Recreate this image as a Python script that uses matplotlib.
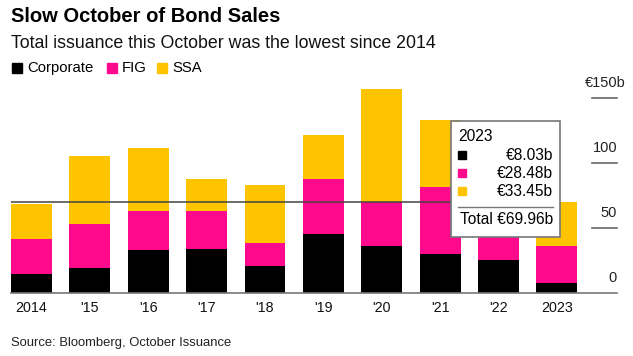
import matplotlib
matplotlib.use("Agg")
import matplotlib.pyplot as plt
from matplotlib.patches import Rectangle

plt.rcParams['font.family'] = ['Liberation Sans', 'DejaVu Sans']

# October issuance, EUR bn
years = ['2014', "'15", "'16", "'17", "'18", "'19", "'20", "'21", "'22", '2023']
corporate = [14.6, 19.5, 33.3, 33.6, 21.0, 45.6, 36.4, 30.3, 25.4, 8.03]
fig_vals = [26.9, 33.6, 30.0, 29.7, 17.7, 42.3, 33.8, 51.5, 30.0, 28.48]
ssa = [27.2, 52.5, 48.2, 24.4, 44.1, 33.9, 86.7, 51.0, 42.0, 33.45]
series_names = ['Corporate', 'FIG', 'SSA']
colors = ['#000000', '#FF0A8C', '#FFC400']
y_ticks = [0, 50, 100, 150]
y_labels = ['0', '50', '100', '\u20ac150b']

W, H = 633, 356
fig = plt.figure(figsize=(W / 100, H / 100), dpi=100)

def fx(px):
    return px / W

def fy(py):
    return 1 - py / H

# axes: x=11..617 px, y baseline at 293 px, 1.3 px per unit
ymax = 160
ax = fig.add_axes([fx(11), fy(293), fx(617 - 11), (ymax * 1.3) / H])
ax.set_xlim(-0.35, 10.03)
ax.set_ylim(0, ymax)
ax.axis('off')

x = list(range(len(years)))
bottom = [0] * len(years)
for vals, c in zip([corporate, fig_vals, ssa], colors):
    ax.bar(x, vals, bottom=bottom, width=0.7, color=c, linewidth=0)
    bottom = [b + v for b, v in zip(bottom, vals)]

# baseline and right-side ticks
ax.plot([-0.35, 10.03], [0, 0], color='#777777', lw=1.2, clip_on=False)
for t, lab in zip(y_ticks, y_labels):
    if t > 0:
        ax.plot([9.60, 10.03], [t, t], color='#666666', lw=1.2, clip_on=False)
    # the currency label hangs a bit past the tick end
    xoff = 6 if lab.endswith('b') else 0
    ax.annotate(lab, xy=(10.03, t), xytext=(xoff, 11), textcoords='offset points',
                ha='right', va='center', fontsize=10.5, color='#222222')

for xi, lab in zip(x, years):
    ax.annotate(lab, xy=(xi, 0), xytext=(0, -10.5), textcoords='offset points',
                ha='center', va='center', fontsize=10.3, color='#111111')

# hover crosshair at 2023 total
total_23 = corporate[-1] + fig_vals[-1] + ssa[-1]
ax.plot([-0.35, 9], [total_23, total_23], color='#444444', lw=1.1)

# title, subtitle, legend
fig.text(fx(11), fy(17), 'Slow October of Bond Sales', fontsize=14.5,
         fontweight='bold', va='center', ha='left')
fig.text(fx(11), fy(43), 'Total issuance this October was the lowest since 2014',
         fontsize=12.8, va='center', ha='left', color='#111111')
leg_x = [12, 107, 157]
for lx, name, c in zip(leg_x, series_names, colors):
    fig.patches.append(Rectangle((fx(lx), fy(73)), fx(10), 10 / H, color=c,
                                 transform=fig.transFigure, figure=fig))
    fig.text(fx(lx + 15), fy(68), name, fontsize=10.7, va='center', ha='left')

fig.text(fx(11), fy(343), 'Source: Bloomberg, October Issuance', fontsize=9.4,
         va='center', ha='left', color='#222222')

# tooltip box
fig.patches.append(Rectangle((fx(451), fy(237)), fx(109), 116 / H, facecolor='white',
                             edgecolor='#777777', lw=1.2,
                             transform=fig.transFigure, figure=fig, zorder=5))
fig.text(fx(458), fy(136), years[-1], fontsize=11.2, va='center',
         ha='left', zorder=6)
vals_23 = [corporate[-1], fig_vals[-1], ssa[-1]]
for i, (v, c) in enumerate(zip(vals_23, colors)):
    yy = 155 + i * 18
    fig.patches.append(Rectangle((fx(458), fy(yy + 4)), fx(8), 8 / H, color=c,
                                 transform=fig.transFigure, figure=fig, zorder=6))
    fig.text(fx(553), fy(yy), '\u20ac%.2fb' % v, fontsize=11.2, va='center',
             ha='right', zorder=6)
fig.lines.append(plt.Line2D([fx(458), fx(553)], [fy(207), fy(207)], color='#777777',
                            lw=1, transform=fig.transFigure, zorder=6))
fig.text(fx(553), fy(219), 'Total \u20ac%.2fb' % total_23, fontsize=11.2,
         va='center', ha='right', zorder=6)

fig.savefig('out.png', dpi=100)
